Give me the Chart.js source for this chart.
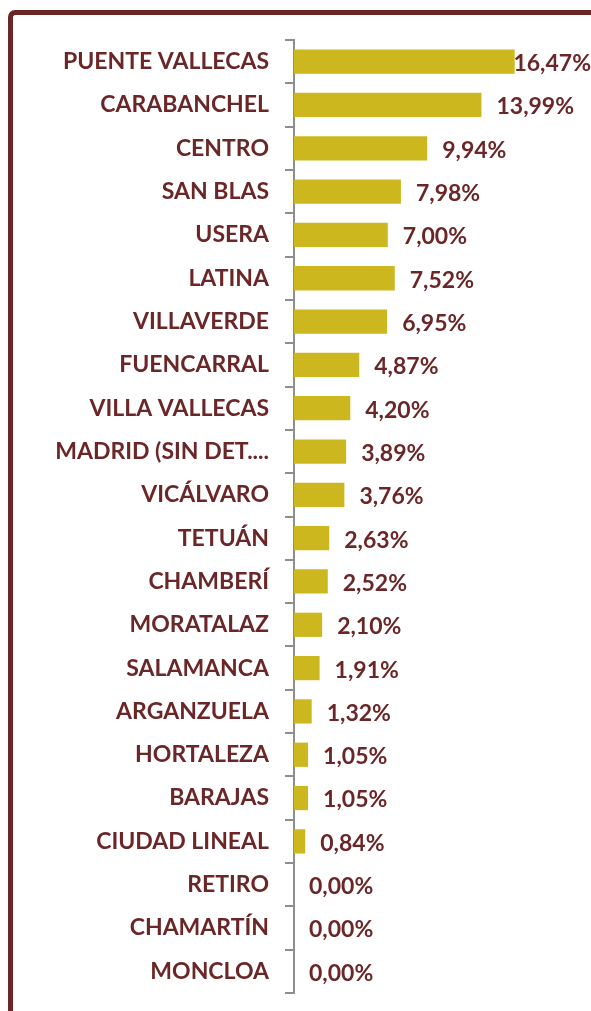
<!DOCTYPE html>
<html>
<head>
<meta charset="utf-8">
<script src="https://cdn.jsdelivr.net/npm/chart.js@4"></script>
<style>
html,body{margin:0;padding:0;background:#fff;overflow:hidden;}
#wrap{position:relative;width:591px;height:1011px;}
#frame{position:absolute;left:8px;top:10px;width:700px;height:1100px;border-left:5px solid #6b2628;border-top:5px solid #6b2628;border-top-left-radius:7px;box-sizing:border-box;}
canvas{position:absolute;left:0;top:0;}
</style>
</head>
<body>
<div id="wrap">
<div id="frame"></div>
<canvas id="c" width="591" height="1011"></canvas>
</div>
<script>
const categories = ["PUENTE VALLECAS","CARABANCHEL","CENTRO","SAN BLAS","USERA","LATINA","VILLAVERDE","FUENCARRAL","VILLA VALLECAS","MADRID (SIN DET....","VICÁLVARO","TETUÁN","CHAMBERÍ","MORATALAZ","SALAMANCA","ARGANZUELA","HORTALEZA","BARAJAS","CIUDAD LINEAL","RETIRO","CHAMARTÍN","MONCLOA"];
const values = [16.47,13.99,9.94,7.98,7.00,7.52,6.95,4.87,4.20,3.89,3.76,2.63,2.52,2.10,1.91,1.32,1.05,1.05,0.84,0.00,0.00,0.00];
const valueLabels = values.map(v => v.toFixed(2).replace('.', ',') + '%');

const TEXT = '#6b2628';
const FONT = 'Lato';
const FSIZE = 23;

const valuePlugin = {
  id: 'valuePlugin',
  afterDatasetsDraw(chart) {
    const ctx = chart.ctx;
    const meta = chart.getDatasetMeta(0);
    ctx.save();
    ctx.font = 'bold ' + FSIZE + 'px ' + FONT;
    ctx.fillStyle = TEXT;
    ctx.textBaseline = 'middle';
    ctx.textAlign = 'left';
    meta.data.forEach((bar, i) => {
      const t = valueLabels[i];
      const w = ctx.measureText(t).width;
      let x = bar.x + 15;
      if (x + w > chart.width) x = chart.width - w;
      ctx.fillText(t, x, bar.y + 2);
    });
    ctx.restore();
  }
};

new Chart(document.getElementById('c'), {
  type: 'bar',
  data: {
    labels: categories,
    datasets: [{
      data: values,
      backgroundColor: '#ccb71f',
      borderWidth: 0,
      barPercentage: 0.56,
      categoryPercentage: 1.0
    }]
  },
  options: {
    indexAxis: 'y',
    responsive: false,
    animation: false,
    events: [],
    layout: { padding: { left: 10, right: 29, top: 40, bottom: 18 } },
    plugins: { legend: { display: false }, tooltip: { enabled: false } },
    scales: {
      x: { display: false, min: 0, max: 20 },
      y: {
        afterFit(scale) { scale.width = 294 - 10; scale.paddingTop = 0; scale.paddingBottom = 0; },
        border: { display: true, color: '#8e8e8e', width: 2 },
        grid: { display: true, drawOnChartArea: false, drawTicks: true, tickLength: 9, color: '#8e8e8e', lineWidth: 2, offset: true },
        ticks: { color: TEXT, padding: 16, font: { family: FONT, weight: 'bold', size: FSIZE }, autoSkip: false }
      }
    }
  },
  plugins: [valuePlugin]
});
</script>
</body>
</html>
